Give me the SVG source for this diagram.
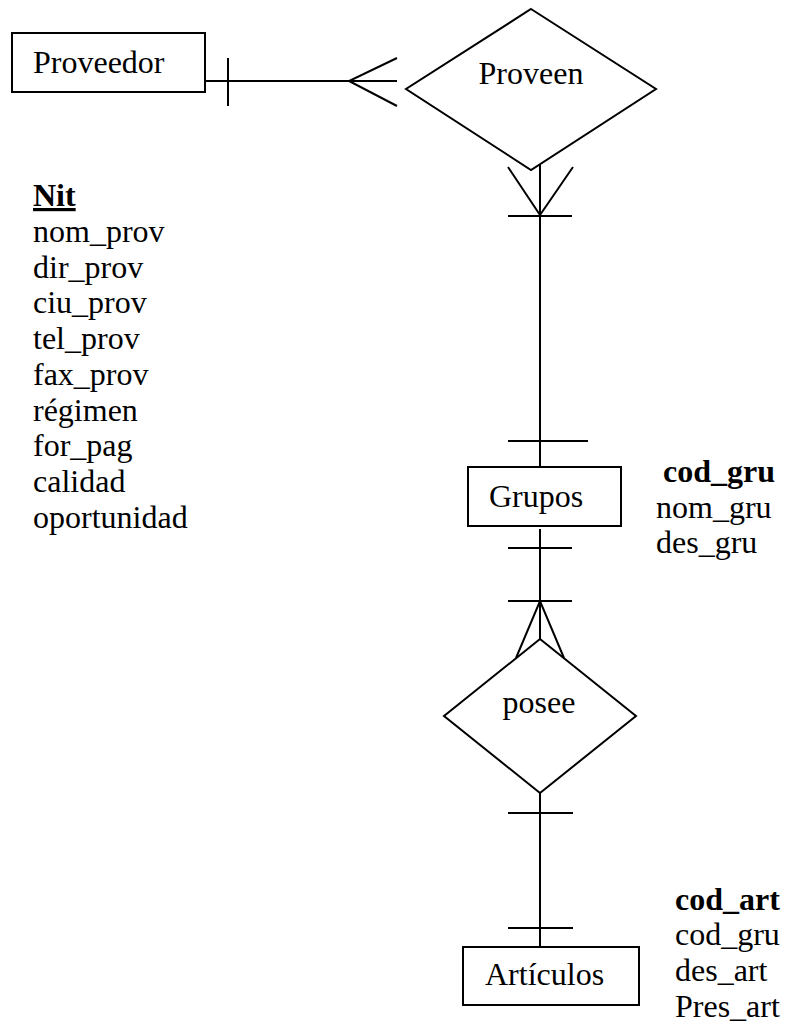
<svg xmlns="http://www.w3.org/2000/svg" width="785" height="1027" viewBox="0 0 785 1027">
<style>
.s{fill:none;stroke:#000;stroke-width:2}
.t{font-family:"Liberation Serif","Times New Roman",serif;font-size:32px;fill:#000}
.b{font-weight:bold}
</style>
<rect width="785" height="1027" fill="#fff"/>
<g id="proveedor">
<rect class="s" x="12" y="33" width="193" height="59"/>
<text class="t" x="33" y="73">Proveedor</text>
</g>
<g id="proveedor-attrs" class="t">
<text x="33" y="206" class="b" text-decoration="underline">Nit</text>
<text x="33" y="242">nom_prov</text>
<text x="33" y="278">dir_prov</text>
<text x="33" y="313">ciu_prov</text>
<text x="33" y="349">tel_prov</text>
<text x="33" y="385">fax_prov</text>
<text x="33" y="421">régimen</text>
<text x="33" y="456">for_pag</text>
<text x="33" y="492">calidad</text>
<text x="33" y="528">oportunidad</text>
</g>
<g id="proveen">
<polygon class="s" points="531,9 656,89 531,170 406,89"/>
<text class="t" x="531" y="84" text-anchor="middle">Proveen</text>
</g>
<g id="grupos">
<rect class="s" x="468" y="467" width="153" height="59"/>
<text class="t" x="489" y="507">Grupos</text>
</g>
<g id="grupos-attrs" class="t">
<text x="663" y="482" class="b">cod_gru</text>
<text x="656" y="518">nom_gru</text>
<text x="656" y="553">des_gru</text>
</g>
<g id="posee">
<polygon class="s" points="540,639 636,716 540,793 444,716"/>
<text class="t" x="539" y="713" text-anchor="middle">posee</text>
</g>
<g id="articulos">
<rect class="s" x="463" y="947" width="176" height="58"/>
<text class="t" x="485" y="985">Artículos</text>
</g>
<g id="articulos-attrs" class="t">
<text x="675" y="910" class="b">cod_art</text>
<text x="675" y="945">cod_gru</text>
<text x="675" y="981">des_art</text>
<text x="675" y="1017">Pres_art</text>
</g>
<g id="connectors" class="s">
<path d="M205,81 H397 M228,58 V106 M397,58 L349,81 L397,106"/>
<path d="M540,165 V467 M508,167 L540,215 L573,167 M508,216 H572 M508,441 H588"/>
<path d="M540,529 V639 M508,548 H572 M508,601 H572 M516,658 L540,601 L564,658"/>
<path d="M540,793 V947 M508,813 H573 M508,928 H573"/>
</g>
</svg>
